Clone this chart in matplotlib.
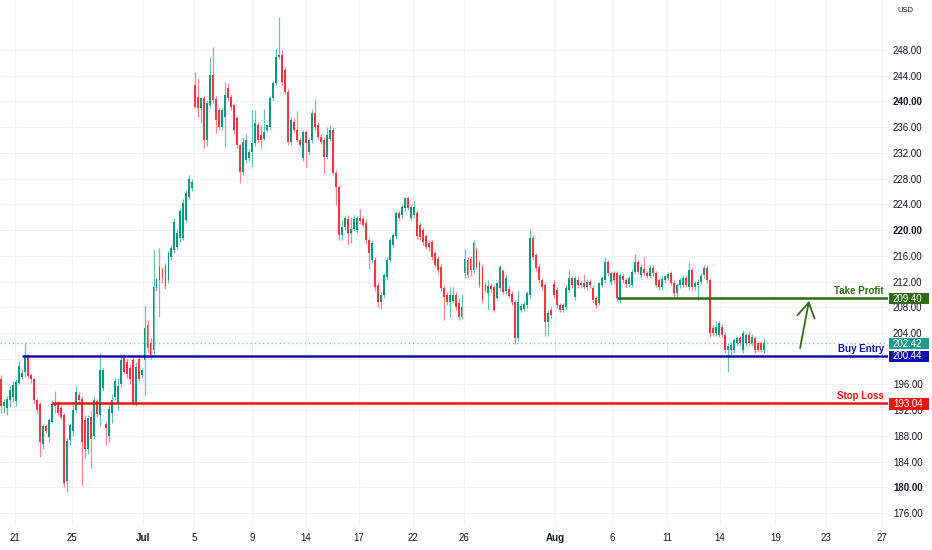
import numpy as np
import matplotlib.pyplot as plt
import matplotlib.transforms as mtransforms
from matplotlib.patches import Rectangle

plt.rcParams['font.family'] = ['Liberation Sans', 'DejaVu Sans']

# candle data (4h bars)
opens = [
    196.8, 192.6, 192.4, 193.6, 194.0, 193.4, 196.2, 197.1, 197.9, 200.5,
    197.4, 196.8, 193.5, 193.0, 186.7, 189.6, 187.8, 190.2, 193.0, 193.0,
    192.3, 191.2, 181.0, 187.3, 188.8, 192.0, 194.4, 193.8, 190.5, 186.0,
    191.0, 188.0, 193.4, 191.3, 195.5, 189.8, 188.0, 191.5, 194.0, 193.0,
    196.0, 200.3, 199.5, 198.6, 199.8, 193.2, 200.0, 197.5, 199.8, 205.2,
    202.5, 201.3, 211.0, 214.2, 213.8, 214.4, 212.2, 215.8, 216.9, 217.4,
    218.7, 218.8, 221.6, 225.1, 226.5, 242.6, 240.7, 239.0, 240.5, 234.0,
    239.4, 244.1, 240.4, 238.7, 236.0, 237.6, 242.1, 240.7, 239.4, 237.4,
    233.2, 229.0, 230.9, 231.2, 232.1, 233.5, 236.3, 234.8, 234.2, 235.6,
    236.0, 240.5, 242.9, 246.9, 247.2, 244.9, 241.5, 233.7, 236.8, 235.6,
    234.0, 231.2, 235.2, 232.1, 234.0, 238.2, 236.3, 234.5, 234.0, 231.4,
    234.2, 235.6, 228.9, 226.7, 219.2, 220.4, 221.7, 219.5, 220.2, 220.0,
    221.9, 221.7, 221.1, 218.4, 215.3, 215.3, 211.5, 208.8, 209.9, 212.7,
    215.3, 217.7, 219.0, 222.7, 222.3, 223.4, 225.0, 221.9, 222.3, 222.7,
    220.8, 220.0, 219.0, 218.0, 218.1, 216.4, 215.5, 214.3, 211.0, 209.9,
    208.8, 209.0, 209.9, 208.7, 206.5, 213.3, 215.3, 215.5, 213.8, 216.9,
    214.9, 214.3, 210.7, 210.2, 211.3, 211.1, 209.5, 211.0, 213.6, 210.5,
    210.9, 210.1, 208.8, 203.2, 207.6, 207.8, 208.3, 209.9, 218.8, 216.1,
    214.3, 212.2, 211.5, 205.7, 207.6, 211.6, 210.7, 208.3, 207.6, 208.0,
    210.7, 212.5, 209.6, 212.2, 211.4, 211.8, 211.1, 212.0, 211.0, 209.4,
    208.7, 211.5, 212.2, 215.0, 211.9, 213.3, 213.3, 209.1, 212.9, 212.2,
    211.6, 211.5, 213.5, 215.0, 213.0, 214.0, 213.3, 212.9, 214.1, 213.3,
    212.2, 211.1, 212.2, 212.6, 213.3, 211.8, 210.2, 211.4, 211.5, 212.6,
    211.1, 213.8, 211.1, 211.5, 212.0, 213.0, 214.1, 212.2, 204.8, 204.0,
    203.7, 205.0, 203.7, 201.3, 201.3, 201.3, 202.4, 203.2, 201.3, 202.4,
    203.7, 202.4, 203.2, 202.4, 202.4, 201.3,
]
highs = [
    197.4, 193.8, 194.2, 195.8, 196.5, 196.8, 199.6, 198.4, 202.5, 200.8,
    197.8, 197.0, 193.9, 193.3, 189.9, 189.9, 190.8, 193.5, 194.9, 193.4,
    192.8, 191.5, 187.6, 190.0, 193.2, 195.8, 194.8, 194.2, 191.2, 191.3,
    191.8, 194.2, 193.8, 200.9, 198.6, 190.3, 193.0, 194.5, 197.0, 197.0,
    200.8, 200.7, 199.9, 199.2, 200.3, 199.5, 200.5, 198.6, 208.3, 206.0,
    203.2, 216.9, 212.5, 217.2, 214.3, 214.8, 216.8, 217.6, 221.8, 220.2,
    223.5, 224.9, 226.3, 228.6, 228.0, 244.6, 243.6, 240.5, 240.8, 240.2,
    246.9, 248.5, 240.8, 239.2, 239.0, 243.0, 242.8, 241.2, 239.8, 237.8,
    233.6, 234.4, 235.0, 232.6, 238.6, 238.6, 236.8, 236.3, 238.8, 236.3,
    240.8, 243.2, 248.3, 253.1, 248.0, 245.3, 241.9, 237.6, 237.5, 238.5,
    234.4, 235.6, 235.6, 234.5, 238.9, 240.2, 236.8, 235.0, 234.4, 236.0,
    236.4, 236.0, 229.3, 227.0, 221.5, 222.2, 222.3, 222.0, 222.4, 222.2,
    223.2, 222.2, 221.5, 218.8, 218.4, 215.8, 212.0, 210.3, 213.4, 215.8,
    218.8, 219.6, 223.0, 223.1, 224.0, 225.2, 225.3, 224.0, 224.5, 223.1,
    221.2, 220.5, 219.4, 218.4, 218.5, 216.8, 215.9, 214.7, 211.4, 210.3,
    211.2, 211.2, 210.3, 209.5, 210.0, 217.0, 215.8, 216.0, 218.4, 217.3,
    215.3, 214.7, 211.9, 212.2, 211.7, 211.5, 212.0, 214.5, 214.0, 213.0,
    211.3, 210.5, 209.2, 210.5, 208.6, 208.9, 210.6, 220.2, 219.2, 216.5,
    214.7, 212.6, 211.9, 207.5, 208.0, 212.3, 211.1, 208.7, 208.7, 211.4,
    213.8, 212.9, 212.9, 212.8, 212.2, 213.2, 212.4, 212.4, 211.4, 209.8,
    212.0, 212.9, 215.8, 215.4, 213.6, 213.7, 213.7, 213.4, 213.3, 212.6,
    212.8, 213.9, 216.3, 215.4, 214.7, 215.8, 213.7, 214.5, 214.5, 213.7,
    212.6, 212.8, 213.0, 213.5, 213.7, 212.2, 211.8, 212.6, 213.0, 213.0,
    215.0, 214.2, 212.1, 212.4, 213.3, 214.5, 214.5, 212.6, 205.2, 205.8,
    205.9, 205.4, 204.1, 202.4, 202.6, 203.2, 203.6, 203.6, 204.4, 204.0,
    204.1, 203.8, 203.6, 202.8, 202.8, 203.2,
]
lows = [
    191.6, 191.5, 191.3, 192.5, 193.2, 192.6, 196.0, 196.8, 197.2, 197.0,
    196.2, 193.0, 191.5, 184.7, 186.0, 188.5, 187.0, 190.0, 191.5, 191.2,
    190.6, 180.0, 179.3, 186.5, 188.0, 191.5, 193.0, 180.4, 184.6, 185.2,
    183.0, 187.5, 191.0, 189.5, 195.0, 186.6, 187.0, 190.0, 193.5, 192.0,
    195.5, 197.8, 197.0, 196.0, 192.8, 192.6, 196.5, 197.0, 194.3, 201.0,
    200.0, 200.8, 210.5, 206.5, 211.8, 210.9, 211.8, 215.4, 216.5, 217.0,
    218.2, 218.4, 221.3, 224.8, 226.0, 239.0, 237.6, 236.6, 232.8, 233.0,
    239.0, 239.8, 235.1, 235.6, 235.6, 232.9, 240.0, 238.6, 235.0, 232.8,
    227.3, 228.6, 230.5, 230.8, 229.8, 233.0, 233.7, 232.8, 234.0, 235.2,
    235.6, 240.1, 242.5, 246.6, 242.6, 241.1, 233.3, 233.3, 235.2, 233.7,
    232.9, 230.8, 229.8, 231.6, 233.6, 235.6, 234.2, 233.4, 228.8, 231.0,
    233.8, 228.6, 223.9, 218.5, 218.5, 220.0, 217.7, 218.0, 219.8, 219.6,
    221.0, 220.5, 217.9, 214.0, 214.9, 210.5, 208.0, 207.8, 209.5, 212.3,
    215.0, 217.3, 218.6, 221.5, 221.9, 223.0, 223.1, 221.5, 221.9, 218.6,
    218.5, 217.7, 217.0, 216.8, 215.4, 214.2, 213.4, 210.6, 206.0, 208.4,
    206.5, 208.6, 207.6, 206.0, 206.1, 212.5, 212.5, 212.8, 213.4, 213.9,
    211.1, 208.6, 210.3, 207.5, 210.4, 207.2, 209.1, 210.6, 210.0, 210.1,
    209.4, 208.4, 202.3, 202.8, 207.2, 207.4, 207.9, 209.5, 215.4, 213.7,
    211.8, 210.7, 203.5, 203.5, 206.4, 209.5, 207.9, 207.2, 207.2, 207.6,
    210.3, 211.0, 209.2, 211.0, 211.0, 210.8, 210.7, 211.0, 208.7, 207.9,
    208.3, 211.1, 211.8, 212.9, 211.5, 211.8, 209.0, 208.7, 211.8, 211.2,
    211.2, 211.1, 213.1, 213.1, 212.6, 213.0, 212.5, 212.5, 212.9, 211.1,
    210.7, 210.7, 211.8, 212.2, 211.4, 209.4, 209.4, 211.0, 211.1, 211.1,
    210.7, 210.7, 210.7, 209.1, 211.6, 212.6, 211.8, 203.3, 203.6, 203.6,
    203.3, 203.3, 200.9, 198.0, 200.5, 200.9, 202.0, 202.0, 200.9, 202.0,
    202.0, 202.0, 200.9, 201.0, 201.0, 200.9,
]
closes = [
    192.6, 193.3, 193.8, 195.2, 195.9, 196.3, 198.9, 197.7, 200.5, 197.3,
    196.8, 193.5, 192.0, 187.0, 189.5, 188.8, 190.4, 192.9, 192.6, 191.6,
    191.0, 180.6, 187.2, 189.7, 192.0, 194.8, 193.6, 187.0, 186.0, 190.7,
    187.5, 193.6, 191.4, 198.2, 198.2, 189.2, 192.2, 193.6, 196.5, 195.8,
    199.8, 198.0, 197.6, 196.8, 193.0, 198.7, 196.8, 198.2, 204.8, 201.7,
    200.6, 211.1, 212.4, 212.2, 212.6, 211.1, 216.4, 217.2, 221.3, 219.6,
    223.0, 224.2, 225.8, 228.0, 227.5, 239.1, 239.0, 240.5, 234.0, 239.8,
    244.1, 240.2, 237.1, 236.0, 238.7, 241.0, 240.5, 239.1, 235.6, 233.2,
    229.0, 233.7, 234.0, 232.1, 233.5, 236.6, 234.0, 234.0, 235.2, 236.3,
    240.5, 242.9, 246.9, 247.2, 243.0, 241.5, 233.7, 237.1, 235.6, 234.0,
    233.2, 235.2, 233.5, 234.0, 238.2, 236.0, 234.5, 233.7, 231.4, 234.8,
    235.6, 228.9, 226.7, 219.2, 220.4, 221.9, 219.5, 220.2, 221.7, 221.9,
    221.4, 220.8, 218.4, 216.4, 218.0, 211.1, 208.8, 209.9, 213.0, 215.3,
    218.4, 219.2, 222.7, 221.9, 223.6, 225.0, 223.4, 223.6, 223.6, 219.0,
    218.9, 218.1, 217.4, 217.4, 215.8, 214.6, 213.8, 211.0, 209.6, 208.8,
    209.9, 209.9, 208.0, 206.5, 208.0, 215.5, 213.0, 213.8, 218.0, 214.3,
    211.5, 209.1, 211.5, 211.3, 210.8, 207.6, 211.7, 214.3, 210.4, 212.6,
    209.8, 208.8, 203.2, 208.8, 208.2, 208.5, 210.2, 218.8, 215.8, 214.1,
    212.2, 211.1, 205.7, 207.1, 206.8, 209.9, 208.3, 207.6, 208.3, 211.0,
    212.5, 211.4, 212.5, 211.4, 211.8, 211.1, 212.0, 211.4, 209.1, 208.3,
    211.7, 212.5, 215.0, 213.3, 213.3, 212.2, 209.4, 213.0, 212.2, 211.6,
    212.5, 213.5, 215.0, 213.5, 214.3, 213.3, 212.9, 214.1, 213.3, 211.5,
    211.1, 212.4, 212.8, 213.2, 211.8, 210.2, 211.4, 212.2, 212.6, 211.5,
    213.8, 211.1, 211.7, 212.0, 212.9, 214.1, 212.2, 204.0, 204.0, 205.0,
    205.5, 203.7, 201.3, 202.0, 202.2, 202.9, 203.2, 202.4, 204.0, 203.7,
    202.4, 203.4, 201.3, 201.3, 201.3, 202.42,
]

# time axis labels (bar index where each date starts)
tick_pos = [4.7, 23.7, 47.5, 64.5, 84.0, 102.0, 119.7, 137.8, 154.8,
            185.3, 204.3, 222.7, 240.4, 258.9, 275.9, 294.6]
tick_labels = ['21', '25', 'Jul', '5', '9', '14', '17', '22', '26',
               'Aug', '6', '11', '14', '19', '23', '27']
price_ticks = list(range(176, 252, 4))

# trade levels
level_names = ['Take Profit', 'Buy Entry', 'Stop Loss']
level_prices = [209.40, 200.44, 193.04]
level_start = [206, 7, 17]
level_colors = ['#2f6b17', '#1212a8', '#f21111']


def main():
    up_col = '#089981'
    dn_col = '#f23645'

    o = np.array(opens)
    h = np.array(highs)
    l = np.array(lows)
    c = np.array(closes)
    idx = np.arange(len(c))
    up = c >= o

    fig = plt.figure(figsize=(9.32, 5.5), dpi=100)
    ax = fig.add_axes([0, 23 / 550, 888 / 932, 527 / 550])
    ax.set_xlim(-0.33, 296.6)
    ax.set_ylim(173.82, 255.78)

    # grid
    for p in price_ticks:
        ax.axhline(p, color='#f1f2f5', lw=0.8, zorder=0)
    for t in tick_pos:
        ax.axvline(t, color='#f1f2f5', lw=0.8, zorder=0)

    # wicks
    ax.vlines(idx[up], l[up], h[up], color=up_col, alpha=0.6, lw=0.9, zorder=2)
    ax.vlines(idx[~up], l[~up], h[~up], color=dn_col, alpha=0.6, lw=0.9, zorder=2)

    # bodies
    body = np.maximum(np.abs(c - o), 0.25)
    bottom = np.minimum(o, c)
    ax.bar(idx[up], body[up], bottom=bottom[up], width=0.64,
           color=up_col, linewidth=0, zorder=3)
    ax.bar(idx[~up], body[~up], bottom=bottom[~up], width=0.64,
           color=dn_col, linewidth=0, zorder=3)

    # last price line
    last = closes[-1]
    ax.axhline(last, color=up_col, lw=1.0, ls=(0, (1, 2)), alpha=0.55, zorder=1)

    # levels
    xr = ax.get_xlim()[1]
    for name, p, x0, col in zip(level_names, level_prices, level_start, level_colors):
        ax.hlines(p, x0, xr, color=col, lw=1.8, zorder=4)
        ax.text(295.3, p + 1.1, name, color=col, fontsize=7,
                fontweight='bold', ha='right', va='center', zorder=5)

    # arrow up to take profit
    ax.annotate('', xy=(270.2, 209.0), xytext=(267.2, 201.65),
                arrowprops=dict(arrowstyle='->,head_length=0.75,head_width=0.45',
                                color=level_colors[0], lw=1.3,
                                mutation_scale=14, shrinkA=0, shrinkB=0),
                zorder=5)

    # axis labels (200.00 sits under the entry box, as on the reference)
    ax.yaxis.tick_right()
    ax.set_yticks(price_ticks)
    ax.set_yticklabels(['' if v == 200 else f'{v:.2f}' for v in price_ticks])
    ax.tick_params(axis='y', length=0, pad=3.6, labelsize=7, labelcolor='#131722')
    for lab, v in zip(ax.get_yticklabels(), price_ticks):
        if v % 20 == 0:
            lab.set_fontweight('bold')

    ax.set_xticks(tick_pos)
    ax.set_xticklabels(tick_labels)
    ax.tick_params(axis='x', length=0, pad=4.5, labelsize=7, labelcolor='#131722')
    for lab in ax.get_xticklabels():
        if lab.get_text() in ('Jul', 'Aug'):
            lab.set_fontweight('bold')

    for s in ax.spines.values():
        s.set_visible(False)

    # price boxes on the scale
    trans = mtransforms.blended_transform_factory(ax.transAxes, ax.transData)
    px = 1 / 6.43
    box_prices = [last] + level_prices
    box_colors = ['#22998a'] + level_colors
    for p, col in zip(box_prices, box_colors):
        ax.add_patch(Rectangle((1 + 1 / 888, p - 6.2 * px), 40 / 888, 11.5 * px,
                               transform=trans, clip_on=False,
                               facecolor=col, edgecolor='none', zorder=6))
        ax.text(1 + 5 / 888, p - 0.5 * px, f'{p:.2f}', transform=trans,
                clip_on=False, color='white', fontsize=7, ha='left',
                va='center', zorder=7)

    fig.text(905 / 932, 1 - 10 / 550, 'USD', fontsize=5.5, color='#131722',
             ha='center', va='center')

    fig.savefig('out.png', dpi=100, facecolor='white')


if __name__ == '__main__':
    main()
